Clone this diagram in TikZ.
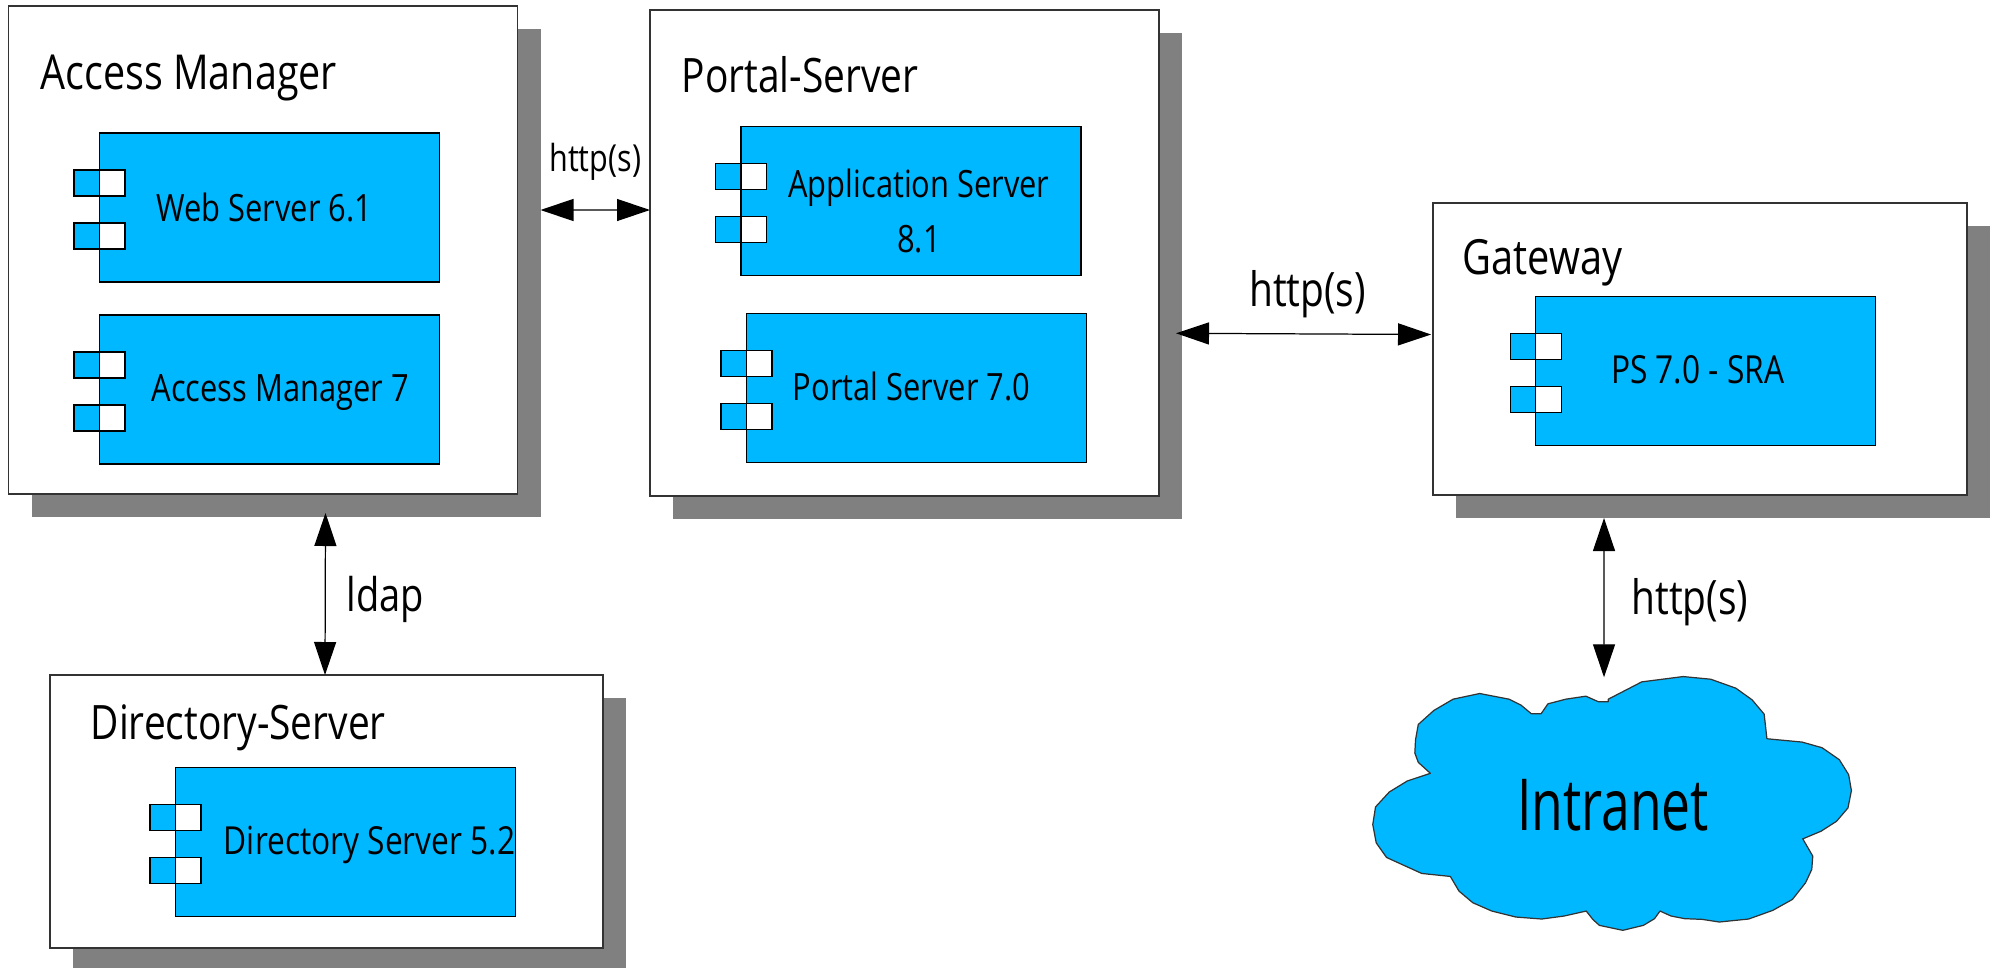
\documentclass[tikz,border=0pt]{standalone}
\usepackage{fontspec}
\setmainfont[FakeStretch=0.82]{Open Sans}
\newfontfamily\narrowfont[FakeStretch=0.72]{Open Sans}
\usetikzlibrary{calc}
\usetikzlibrary{positioning}
\usetikzlibrary{arrows.meta}

\definecolor{compblue}{HTML}{00B8FF}
\definecolor{shadowgray}{HTML}{808080}

\tikzset{
    serverbox/.style={draw=black!80, fill=white, line width=.4pt, anchor=north west,
        inner sep=0pt, outer sep=0pt},
    servershadow/.style={fill=shadowgray, anchor=north west, inner sep=0pt, outer sep=0pt},
    servertitle/.style={anchor=base west, inner sep=0pt, font=\fontsize{13.5}{16}\selectfont},
    comp/.style={draw=black, fill=compblue, line width=.4pt, anchor=north west,
        minimum width=3.40cm, minimum height=1.49cm, inner sep=0pt, outer sep=0pt},
    comptext/.style={align=center, inner sep=0pt, font=\fontsize{10.7}{15.5}\selectfont},
    portl/.style={draw=black, fill=compblue, line width=.4pt, anchor=north east,
        minimum width=.255cm, minimum height=.26cm, inner sep=0pt, outer sep=0pt},
    portr/.style={portl, fill=white, anchor=north west},
    biarrow/.style={{Triangle[length=.33cm,width=.22cm]}-{Triangle[length=.33cm,width=.22cm]},
        line width=.35pt, black},
    cloudshape/.style={draw=black!80, fill=compblue, line width=.35pt, line join=round},
    linklabel/.style={inner sep=0pt, font=\fontsize{13.2}{16}\selectfont},
}

\begin{document}
\begin{tikzpicture}

        \useasboundingbox (0,0) rectangle (19.95,-9.67);

        \foreach \nm/\x/\y/\w/\h in {access/.085/-.06/5.09/4.88, portal/6.50/-.10/5.09/4.86,
            gateway/14.33/-2.03/5.34/2.92, directory/.50/-6.75/5.53/2.73}
        {
            \node (\nm shadow) [servershadow, minimum width=\w cm, minimum height=\h cm]
            at (\x+.23,\y-.23) {};
            \node (\nm) [serverbox, minimum width=\w cm, minimum height=\h cm]
            at (\x,\y) {};
        }

        \node (accesstitle) [servertitle, font=\fontsize{13.7}{16}\selectfont] at (.40,-.89) {Access Manager};
        \node (portaltitle) [servertitle] at (6.81,-.92) {Portal-Server};
        \node (gatewaytitle) [servertitle, font=\fontsize{13.8}{16}\selectfont] at (14.62,-2.74) {Gateway};
        \node (directorytitle) [servertitle] at (.90,-7.39) {Directory-Server};

        % Every component has two ports on its left side
        \foreach \nm/\x/\y/\dx/\dy/\txt in {
            web/.993/-1.33/-.05/0/{Web Server 6.1},
            manager/.993/-3.15/.11/-.03/{Access Manager 7},
            application/7.41/-1.265/.08/-.10/{Application Server\\8.1},
            portalserver/7.465/-3.135/-.05/.02/{Portal Server 7.0},
            sra/15.357/-2.965/-.08/.01/{\fontsize{11}{15}\selectfont PS 7.0 - SRA},
            directoryserver/1.756/-7.675/.24/-.03/{\fontsize{11}{15}\selectfont Directory Server 5.2}}
        {
            \node (\nm) [comp] at (\x,\y) {};
            \node (\nm text) [comptext, xshift=\dx cm, yshift=\dy cm] at (\nm.center) {\txt};
            \foreach \p/\d in {1/.37, 2/.90}
            {
                \node (\nm l\p) [portl] at ([yshift=-\d cm]\nm.north west) {};
                \node (\nm r\p) [portr] at ([yshift=-\d cm]\nm.north west) {};
            }
        }

        \begin{scope}[shift={(13.40,-6.20)}, x=.003444cm, y=-.003333cm]
            \draw[cloudshape] plot coordinates {
                (778,238) (875,186) (995,170) (1075,178) (1148,205) (1195,240) (1230,283)
                (1238,357) (1340,367) (1398,384) (1448,420) (1475,465) (1483,513) (1473,565)
                (1440,605) (1395,635) (1342,658) (1371,710) (1368,750) (1350,790) (1312,840)
                (1255,873) (1185,899) (1100,908) (1050,900) (1000,898) (960,890) (928,875)
                (912,898) (880,918) (820,933) (752,918) (733,900) (714,875) (650,890)
                (585,899) (510,893) (440,875) (385,850) (345,815) (320,771) (237,762)
                (135,714) (105,670) (95,615) (103,562) (143,517) (195,484) (262,461)
                (227,428) (217,400) (219,360) (227,314) (272,272) (328,238) (405,221)
                (490,238) (525,256) (555,282) (583,282) (603,252) (655,238) (713,229)
                (750,246) (778,246)} -- cycle;
        \end{scope}
        \node (intranet) [minimum width=4.78cm, minimum height=2.54cm, inner sep=0pt,
            font=\narrowfont\fontsize{20.4}{25}\selectfont] at (16.13,-8.05) {Intranet};

        \begin{scope}
            \draw[biarrow] ([yshift=.63cm]accessshadow.east) -- ([yshift=.43cm]portal.west)
            node (httpa) [midway, above=.29cm, linklabel, font=\fontsize{10.6}{13}\selectfont] {http(s)};
            \draw[biarrow] ([xshift=-.06cm,yshift=-.573cm]portalshadow.east)
            -- ([xshift=-.02cm,yshift=.145cm]gateway.west)
            node (httpb) [midway, above=.15cm, xshift=.04cm, linklabel, font=\fontsize{13.5}{16}\selectfont] {http(s)};
            \draw[biarrow] ([xshift=.395cm,yshift=.04cm]accessshadow.south)
            -- ([xshift=-.015cm]directory.north)
            node (ldap) [midway, right=.21cm, yshift=-.05cm, linklabel] {ldap};
            \draw[biarrow] ([xshift=-1.19cm]gatewayshadow.south)
            -- ([xshift=-.09cm]intranet.north)
            node (httpc) [midway, right=.27cm, yshift=-.05cm, linklabel, font=\fontsize{13.5}{16}\selectfont] {http(s)};
        \end{scope}

\end{tikzpicture}
\end{document}
